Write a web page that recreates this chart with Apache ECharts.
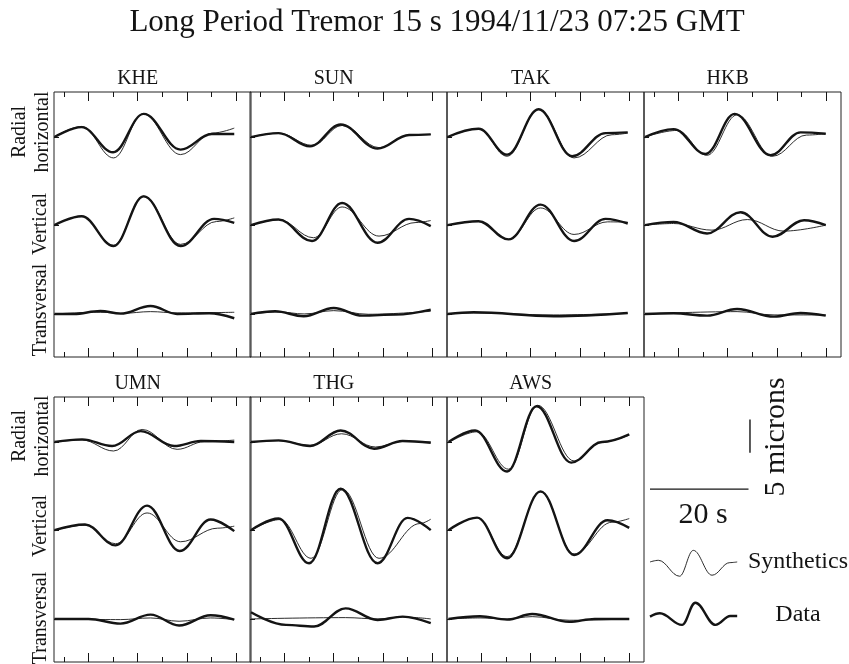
<!DOCTYPE html>
<html><head><meta charset="utf-8">
<script src="https://cdn.jsdelivr.net/npm/echarts@6/dist/echarts.min.js"></script>
<style>html,body{margin:0;padding:0;background:#fff}#c{width:849px;height:664px}</style>
</head><body><div id="c"></div>
<script>
// ---------- labels ----------
const TITLE = 'Long Period Tremor 15 s 1994/11/23 07:25 GMT';
const stations = ['KHE','SUN','TAK','HKB','UMN','THG','AWS'];
const components = ['Radial\nhorizontal','Vertical','Transversal'];
const majorTicks = [5,15,25,35];   // seconds
const minorTicks = [0,10,20,30];   // seconds
const TIME_SCALE = 20;   // s
const AMP_SCALE = 5;     // microns

// ---------- waveforms: turning points [time s, displacement microns] ----------
const KHE_R_data = [[-1.9,0],[3.6,1.5],[10.0,-2.3],[16.2,3.5],[23.7,-1.9],[30.0,0.45],[34.6,0.45]];
const KHE_R_syn  = [[-1.9,0],[3.6,1.6],[10.1,-3.15],[16.1,3.5],[23.7,-2.65],[30.2,0.6],[34.6,1.35]];
const KHE_V_data = [[-1.9,0],[3.6,1.35],[10.1,-3.15],[16.2,4.35],[23.7,-3.15],[30.5,0.95],[34.6,0.35]];
const KHE_V_syn  = [[-1.9,0],[3.6,1.35],[10.1,-3.05],[16.2,4.4],[23.7,-2.9],[31.0,0.55],[34.6,1.1]];
const KHE_T_data = [[-1.9,0],[2.0,0],[7.4,0.45],[11.5,0.05],[17.6,1.2],[23.0,0.0],[29.5,0.1],[34.6,-0.65]];
const KHE_T_syn  = [[-1.9,0],[7.4,0.25],[12.0,0.1],[17.6,0.35],[23.0,0.15],[34.6,0.25]];

const SUN_R_data = [[-1.8,0],[3.8,0.6],[10.2,-1.4],[16.4,1.9],[23.9,-1.75],[30.3,0.3],[34.7,0.4]];
const SUN_R_syn  = [[-1.8,0],[3.8,0.6],[10.6,-1.25],[16.7,1.75],[24.2,-1.6],[30.3,0.3],[34.7,0.4]];
const SUN_V_data = [[-1.8,0],[3.8,0.85],[10.6,-2.4],[16.7,3.35],[23.9,-2.65],[30.3,0.95],[34.7,-0.15]];
const SUN_V_syn  = [[-1.8,0],[3.8,0.85],[10.9,-1.9],[16.7,2.75],[24.2,-1.65],[31.7,0.4],[34.7,0.7]];
const SUN_T_data = [[-1.8,0],[3.1,0.4],[8.9,-0.35],[15.0,0.9],[20.8,-0.25],[27.6,-0.1],[34.7,0.65]];
const SUN_T_syn  = [[-1.8,0],[3.8,0.3],[9.0,0],[15.0,0.5],[22.0,-0.05],[34.7,0.4]];

const TAK_R_data = [[-1.9,0],[4.4,1.25],[10.2,-2.65],[16.6,4.2],[23.4,-2.9],[30.2,0.6],[34.7,0.7]];
const TAK_R_syn  = [[-1.9,0],[4.4,1.25],[10.2,-2.9],[16.6,4.2],[23.8,-3.15],[31.5,0.35],[34.7,0.6]];
const TAK_V_data = [[-1.9,0],[4.4,0.6],[10.5,-2.15],[17.0,3.1],[23.8,-2.4],[30.2,0.95],[34.7,0.25]];
const TAK_V_syn  = [[-1.9,0],[4.4,0.6],[10.5,-2.15],[17.0,2.6],[23.8,-1.4],[30.6,0.5],[34.7,0.45]];
const TAK_T_data = [[-1.9,0],[3.4,0.25],[19.7,-0.35],[34.7,0.15]];
const TAK_T_syn  = [[-1.9,0],[3.4,0.15],[19.7,-0.15],[34.7,0.1]];

const HKB_R_data = [[-1.8,0],[4.0,1.2],[10.5,-2.55],[16.4,3.5],[23.7,-2.75],[29.8,0.7],[34.9,0.5]];
const HKB_R_syn  = [[-1.8,0],[4.7,1.0],[10.8,-2.75],[16.9,3.35],[24.1,-2.9],[31.0,0.3],[34.9,0.5]];
const HKB_V_data = [[-1.8,0],[4.0,0.5],[10.8,-1.25],[17.6,1.95],[24.1,-1.75],[30.5,0.75],[34.9,0]];
const HKB_V_syn  = [[-1.8,0],[4.0,0.25],[11.8,-0.75],[19.0,0.85],[26.4,-0.9],[34.9,0]];
const HKB_T_data = [[-1.8,0],[4.0,0.1],[10.8,-0.25],[16.9,0.75],[24.4,-0.4],[29.8,0.15],[34.9,-0.25]];
const HKB_T_syn  = [[-1.8,0],[16.9,0.35],[24.4,-0.15],[34.9,-0.15]];

const UMN_R_data = [[-1.9,0],[3.7,0.4],[9.8,-0.6],[15.6,1.65],[22.4,-0.6],[27.8,0.15],[34.6,0]];
const UMN_R_syn  = [[-1.9,0],[3.7,0.3],[10.1,-1.35],[15.9,1.9],[23.0,-1.1],[28.5,0.05],[34.6,0.3]];
const UMN_V_data = [[-1.9,0],[4.3,0.85],[10.5,-2.3],[16.9,3.7],[23.5,-3.15],[29.8,1.6],[34.6,-0.15]];
const UMN_V_syn  = [[-1.9,0],[4.3,0.75],[10.5,-2.05],[16.9,2.6],[23.7,-1.75],[31.2,0.3],[34.6,0.6]];
const UMN_T_data = [[-1.9,0],[5.0,0],[11.5,-0.7],[17.6,0.65],[23.4,-1.0],[29.8,0.55],[34.6,-0.1]];
const UMN_T_syn  = [[-1.9,0],[11.5,-0.1],[17.6,0.15],[23.4,-0.35],[29.8,0.15],[34.6,-0.1]];

const THG_R_data = [[-1.8,0],[3.8,0.25],[10.2,-0.6],[16.4,1.75],[23.2,-1.0],[29.0,0.15],[34.7,-0.1]];
const THG_R_syn  = [[-1.8,0],[3.8,0.2],[10.2,-0.5],[16.6,1.25],[23.5,-0.75],[29.0,0.1],[34.7,0]];
const THG_V_data = [[-1.8,0],[3.8,1.75],[10.0,-5.0],[16.4,6.25],[23.9,-5.0],[30.0,1.85],[34.7,0]];
const THG_V_syn  = [[-1.8,0],[4.1,1.6],[10.4,-4.25],[16.8,6.15],[24.2,-4.25],[32.5,1.0],[34.7,1.65]];
const THG_T_data = [[-1.8,1.0],[5.3,-0.9],[11.0,-1.15],[17.4,1.6],[23.9,-0.15],[29.0,0.35],[34.7,-0.65]];
const THG_T_syn  = [[-1.8,0],[17.4,0.2],[24.0,0],[29.0,0.3],[34.7,0]];

const AWS_R_data = [[-1.7,0],[3.7,1.75],[10.2,-4.45],[16.2,5.4],[23.2,-3.1],[29.5,0.0],[35.0,1.15]];
const AWS_R_syn  = [[-1.7,-0.1],[4.1,1.55],[10.5,-4.1],[16.4,5.55],[23.8,-2.85],[29.5,0.0],[35.0,1.05]];
const AWS_V_data = [[-1.7,0],[4.1,1.9],[10.2,-4.25],[17.0,5.85],[23.8,-3.75],[30.6,1.5],[35.0,0.35]];
const AWS_V_syn  = [[-1.7,0],[4.1,1.9],[10.2,-4.0],[17.0,5.75],[23.8,-3.6],[31.5,1.2],[35.0,1.75]];
const AWS_T_data = [[-1.7,0],[4.7,0.4],[10.2,-0.1],[15.3,0.75],[22.8,-0.45],[28.0,0],[35.0,0]];
const AWS_T_syn  = [[-1.7,0],[4.7,0.15],[10.2,0],[15.3,0.35],[22.8,-0.2],[35.0,0]];

// legend sample traces
const SYN_SAMPLE  = [[0,0],[1.7,0.25],[6.0,-2.15],[8.8,1.75],[12.6,-2.0],[16.2,-0.1],[17.7,0]];
const DATA_SAMPLE = [[0,-0.25],[2.0,0.25],[6.5,-1.5],[9.2,1.85],[13.3,-1.5],[16.3,-0.15],[17.7,-0.15]];

// ---------- layout ----------
const traces = [
  [[KHE_R_data,KHE_R_syn],[KHE_V_data,KHE_V_syn],[KHE_T_data,KHE_T_syn]],
  [[SUN_R_data,SUN_R_syn],[SUN_V_data,SUN_V_syn],[SUN_T_data,SUN_T_syn]],
  [[TAK_R_data,TAK_R_syn],[TAK_V_data,TAK_V_syn],[TAK_T_data,TAK_T_syn]],
  [[HKB_R_data,HKB_R_syn],[HKB_V_data,HKB_V_syn],[HKB_T_data,HKB_T_syn]],
  [[UMN_R_data,UMN_R_syn],[UMN_V_data,UMN_V_syn],[UMN_T_data,UMN_T_syn]],
  [[THG_R_data,THG_R_syn],[THG_V_data,THG_V_syn],[THG_T_data,THG_T_syn]],
  [[AWS_R_data,AWS_R_syn],[AWS_V_data,AWS_V_syn],[AWS_T_data,AWS_T_syn]]
];
const PANEL_LEFT = [54,250,447,644,54,250,447];
const PANEL_TOP  = [92,92,92,92,397,397,397];
const PW = 197, PH = 265;
const XMIN = -2, XMAX = 38, YMIN = 0, YMAX = 40;
const OFFSETS = [33.2, 19.9, 6.5];
const FONT = "'Liberation Serif','Times New Roman',serif";
const INK = '#141414';
const SMOOTH = 0.38;

const grids = [], xAxes = [], yAxes = [], series = [], graphics = [];

function tickAxis(gi, pos, vals, len) {
  return {type:'value', gridIndex:gi, min:XMIN, max:XMAX, position:pos,
    axisLine:{show:false, onZero:false}, splitLine:{show:false}, axisLabel:{show:false},
    axisTick:{show:true, inside:true, length:len, customValues:vals, lineStyle:{color:INK, width:1}}};
}

stations.forEach((st, i) => {
  grids.push({left:PANEL_LEFT[i], top:PANEL_TOP[i], width:PW, height:PH, show:true,
    borderColor:'#222', borderWidth:1, backgroundColor:'transparent', containLabel:false});
  const xi = xAxes.length;
  xAxes.push(tickAxis(i,'bottom',majorTicks,9));
  xAxes.push(tickAxis(i,'bottom',minorTicks,5));
  xAxes.push(tickAxis(i,'top',majorTicks,9));
  xAxes.push(tickAxis(i,'top',minorTicks,5));
  yAxes.push({type:'value', gridIndex:i, min:YMIN, max:YMAX, position:'left',
    axisLine:{show:false, onZero:false}, splitLine:{show:false}, axisLabel:{show:false},
    axisTick:{show:true, inside:true, length:5, customValues:OFFSETS, lineStyle:{color:INK, width:1}}});
  traces[i].forEach((pair, j) => {
    pair.forEach((arr, k) => {
      series.push({type:'line', xAxisIndex:xi, yAxisIndex:i, silent:true, animation:false,
        symbol:'none', smooth:SMOOTH, smoothMonotone:'x', z: k === 0 ? 3 : 4,
        lineStyle:{color:INK, width: k === 0 ? 2.4 : 0.9},
        data: arr.map(p => [p[0], p[1] + OFFSETS[j]])});
    });
  });
  graphics.push({type:'text', x: PANEL_LEFT[i] + (15 - XMIN) * PW / (XMAX - XMIN), y: PANEL_TOP[i] - 13,
    style:{text:st, font:'20px ' + FONT, fill:INK, textAlign:'center', textVerticalAlign:'middle'}});
});

// legend / scale grid
const LG = grids.length;
const LEG_W = 21 * PW / (XMAX - XMIN);
grids.push({left:650, top:397, width:LEG_W, height:PH, show:false});
xAxes.push({type:'value', gridIndex:LG, min:0, max:21, show:false});
yAxes.push({type:'value', gridIndex:LG, min:YMIN, max:YMAX, show:false});
const LXI = xAxes.length - 1, LYI = yAxes.length - 1;
const legLine = (d, w, sm) => ({type:'line', xAxisIndex:LXI, yAxisIndex:LYI, silent:true, animation:false,
  symbol:'none', smooth:sm, smoothMonotone:'x', lineStyle:{color:INK, width:w}, data:d});
const barY = 26.1, ampX = 20.3, ampY0 = 31.6;
series.push(legLine([[0,barY],[TIME_SCALE,barY]],1.4,false));
series.push(legLine([[ampX,ampY0],[ampX,ampY0+AMP_SCALE]],1.4,false));
series.push(legLine(SYN_SAMPLE.map(p=>[p[0], p[1]+15.1]),0.9,SMOOTH));
series.push(legLine(DATA_SAMPLE.map(p=>[p[0], p[1]+7.1]),2.4,SMOOTH));

// component labels (rotated)
const rowLabels = [
  {t:components[0], x:31, y:[132,436]},
  {t:components[1], x:41, y:[224,526]},
  {t:components[2], x:41, y:[310,618]}
];
rowLabels.forEach(r => r.y.forEach(yy => graphics.push({type:'text', x:r.x, y:yy, rotation:Math.PI/2,
  style:{text:r.t, font:'20px ' + FONT, lineHeight:23, fill:INK, textAlign:'center', textVerticalAlign:'middle'}})));

graphics.push({type:'text', x:437, y:23, style:{text:TITLE, font:'31px ' + FONT, fill:INK, textAlign:'center', textVerticalAlign:'middle'}});
graphics.push({type:'text', x:703, y:515, style:{text:TIME_SCALE + ' s', font:'30px ' + FONT, fill:INK, textAlign:'center', textVerticalAlign:'middle'}});
graphics.push({type:'text', x:776, y:437, rotation:Math.PI/2, style:{text:AMP_SCALE + ' microns', font:'30px ' + FONT, fill:INK, textAlign:'center', textVerticalAlign:'middle'}});
graphics.push({type:'text', x:748, y:562, style:{text:'Synthetics', font:'24px ' + FONT, fill:INK, textAlign:'left', textVerticalAlign:'middle'}});
graphics.push({type:'text', x:798, y:615, style:{text:'Data', font:'24px ' + FONT, fill:INK, textAlign:'center', textVerticalAlign:'middle'}});

const chart = echarts.init(document.getElementById('c'), null, {renderer:'canvas'});
chart.setOption({
  backgroundColor:'#fff',
  animation:false,
  grid:grids, xAxis:xAxes, yAxis:yAxes, series:series, graphic:graphics
});
</script></body></html>
